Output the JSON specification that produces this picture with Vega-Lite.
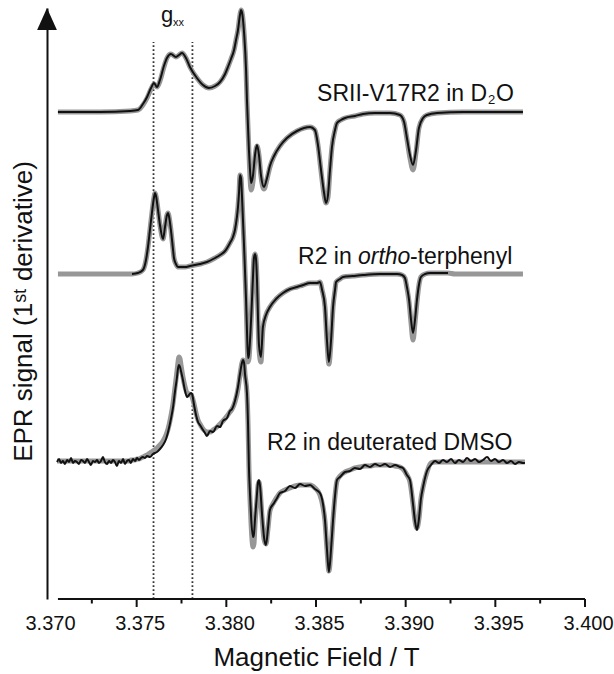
{
"$schema": "https://vega.github.io/schema/vega-lite/v6.json",
"width": 538, "height": 591,
"autosize": {"type": "none"},
"padding": {"left": 47, "top": 8, "right": 29, "bottom": 75},
"background": "white",
"config": {"view": {"stroke": null}, "font": "Liberation Sans"},
"datasets": {
"gl": [{"x":3.37594,"y0":0,"y1":557},{"x":3.37811,"y0":0,"y1":557}],
"axl": [{"x":3.37061,"x2":3.4,"y":0}],
"ticks": [
{"x":3.375,"y0":0,"y1":-8},{"x":3.380,"y0":0,"y1":-8},{"x":3.385,"y0":0,"y1":-8},{"x":3.390,"y0":0,"y1":-8},{"x":3.395,"y0":0,"y1":-8},{"x":3.400,"y0":0,"y1":-8},
{"x":3.3725,"y0":0,"y1":-4.5},{"x":3.3775,"y0":0,"y1":-4.5},{"x":3.3825,"y0":0,"y1":-4.5},{"x":3.3875,"y0":0,"y1":-4.5},{"x":3.3925,"y0":0,"y1":-4.5},{"x":3.3975,"y0":0,"y1":-4.5}],
"arrow": [{"x":3.370,"y":580}],
"ann": [
{"t":"SRII-V17R2 in D","x":3.38506,"y":498,"sz":23,"it":false},
{"t":"2","x":3.39459,"y":495,"sz":13,"it":false},
{"t":"O","x":3.39504,"y":498,"sz":23,"it":false},
{"t":"R2 in","x":3.38400,"y":335,"sz":23,"it":false},
{"t":"ortho","x":3.38734,"y":335,"sz":23,"it":true},
{"t":"-terphenyl","x":3.39024,"y":335,"sz":23,"it":false},
{"t":"R2 in deuterated DMSO","x":3.38227,"y":149,"sz":23,"it":false},
{"t":"g","x":3.37636,"y":577,"sz":22,"it":false},
{"t":"xx","x":3.37703,"y":573,"sz":11,"it":false}],
"spec": [
{"s":"A","x":3.37061,"e":487,"m":487},{"s":"A","x":3.37296,"e":487,"m":487},{"s":"A","x":3.37463,"e":488,"m":488},{"s":"A","x":3.37507,"e":489,"m":489},
{"s":"A","x":3.37535,"e":495,"m":494},{"s":"A","x":3.37558,"e":502,"m":501},{"s":"A","x":3.37580,"e":511,"m":510},{"s":"A","x":3.37597,"e":516,"m":515},
{"s":"A","x":3.37613,"e":512,"m":512},{"s":"A","x":3.37630,"e":519,"m":518},{"s":"A","x":3.37652,"e":533,"m":532},{"s":"A","x":3.37669,"e":541,"m":541},
{"s":"A","x":3.37691,"e":545,"m":545},{"s":"A","x":3.37719,"e":542,"m":542},{"s":"A","x":3.37736,"e":544,"m":544},{"s":"A","x":3.37753,"e":546,"m":546},
{"s":"A","x":3.37775,"e":541,"m":541},{"s":"A","x":3.37797,"e":532,"m":532},{"s":"A","x":3.37836,"e":521,"m":521},{"s":"A","x":3.37870,"e":514,"m":514},
{"s":"A","x":3.37903,"e":511,"m":511},{"s":"A","x":3.37937,"e":513,"m":513},{"s":"A","x":3.37965,"e":517,"m":517},{"s":"A","x":3.37993,"e":525,"m":525},
{"s":"A","x":3.38009,"e":532,"m":532},{"s":"A","x":3.38026,"e":540,"m":540},{"s":"A","x":3.38043,"e":549,"m":549},{"s":"A","x":3.38054,"e":559,"m":559},
{"s":"A","x":3.38065,"e":569,"m":569},{"s":"A","x":3.38076,"e":584,"m":584},{"s":"A","x":3.38082,"e":589,"m":589},{"s":"A","x":3.38087,"e":587,"m":587},
{"s":"A","x":3.38099,"e":566,"m":566},{"s":"A","x":3.38110,"e":529,"m":529},{"s":"A","x":3.38115,"e":499,"m":499},{"s":"A","x":3.38126,"e":449,"m":447},
{"s":"A","x":3.38132,"e":429,"m":422},{"s":"A","x":3.38138,"e":416,"m":409},{"s":"A","x":3.38149,"e":424,"m":418},{"s":"A","x":3.38160,"e":444,"m":442},
{"s":"A","x":3.38171,"e":454,"m":453},{"s":"A","x":3.38182,"e":444,"m":444},{"s":"A","x":3.38193,"e":424,"m":423},{"s":"A","x":3.38210,"e":412,"m":410},
{"s":"A","x":3.38227,"e":421,"m":420},{"s":"A","x":3.38243,"e":433,"m":432},{"s":"A","x":3.38266,"e":443,"m":443},{"s":"A","x":3.38299,"e":453,"m":453},
{"s":"A","x":3.38338,"e":461,"m":461},{"s":"A","x":3.38394,"e":468,"m":468},{"s":"A","x":3.38467,"e":472,"m":472},{"s":"A","x":3.38494,"e":469,"m":469},
{"s":"A","x":3.38511,"e":454,"m":454},{"s":"A","x":3.38528,"e":429,"m":428},{"s":"A","x":3.38545,"e":406,"m":404},{"s":"A","x":3.38556,"e":396,"m":396},
{"s":"A","x":3.38567,"e":404,"m":402},{"s":"A","x":3.38578,"e":429,"m":429},{"s":"A","x":3.38589,"e":452,"m":452},{"s":"A","x":3.38606,"e":469,"m":469},
{"s":"A","x":3.38617,"e":476,"m":476},{"s":"A","x":3.38639,"e":479,"m":479},{"s":"A","x":3.38662,"e":481,"m":481},{"s":"A","x":3.38717,"e":483,"m":483},
{"s":"A","x":3.38762,"e":485,"m":485},{"s":"A","x":3.38829,"e":486,"m":486},{"s":"A","x":3.38913,"e":486,"m":486},{"s":"A","x":3.38968,"e":484,"m":484},
{"s":"A","x":3.38991,"e":477,"m":477},{"s":"A","x":3.39007,"e":461,"m":460},{"s":"A","x":3.39024,"e":444,"m":441},{"s":"A","x":3.39041,"e":434,"m":429},
{"s":"A","x":3.39058,"e":449,"m":447},{"s":"A","x":3.39074,"e":471,"m":471},{"s":"A","x":3.39097,"e":481,"m":481},{"s":"A","x":3.39119,"e":484,"m":484},
{"s":"A","x":3.39175,"e":486,"m":486},{"s":"A","x":3.39320,"e":487,"m":487},{"s":"A","x":3.39470,"e":487,"m":487},{"s":"A","x":3.39654,"e":487,"m":487},

{"s":"B","x":3.37061,"e":null,"m":325},{"s":"B","x":3.37296,"e":null,"m":325},{"s":"B","x":3.37474,"e":325,"m":325},{"s":"B","x":3.37507,"e":326,"m":326},
{"s":"B","x":3.37535,"e":329,"m":329},{"s":"B","x":3.37552,"e":339,"m":339},{"s":"B","x":3.37563,"e":352,"m":352},{"s":"B","x":3.37574,"e":369,"m":369},
{"s":"B","x":3.37585,"e":386,"m":386},{"s":"B","x":3.37597,"e":402,"m":402},{"s":"B","x":3.37602,"e":406,"m":406},{"s":"B","x":3.37608,"e":403,"m":403},
{"s":"B","x":3.37619,"e":389,"m":389},{"s":"B","x":3.37630,"e":374,"m":374},{"s":"B","x":3.37647,"e":360,"m":360},{"s":"B","x":3.37658,"e":372,"m":372},
{"s":"B","x":3.37669,"e":384,"m":384},{"s":"B","x":3.37675,"e":386,"m":386},{"s":"B","x":3.37680,"e":383,"m":383},{"s":"B","x":3.37691,"e":369,"m":369},
{"s":"B","x":3.37703,"e":349,"m":349},{"s":"B","x":3.37708,"e":341,"m":341},{"s":"B","x":3.37719,"e":335,"m":335},{"s":"B","x":3.37730,"e":332,"m":332},
{"s":"B","x":3.37770,"e":332,"m":332},{"s":"B","x":3.37797,"e":333,"m":333},{"s":"B","x":3.37853,"e":335,"m":335},{"s":"B","x":3.37892,"e":337,"m":337},
{"s":"B","x":3.37937,"e":341,"m":341},{"s":"B","x":3.37965,"e":344,"m":344},{"s":"B","x":3.37993,"e":348,"m":348},{"s":"B","x":3.38020,"e":356,"m":356},
{"s":"B","x":3.38037,"e":362,"m":362},{"s":"B","x":3.38048,"e":369,"m":369},{"s":"B","x":3.38059,"e":382,"m":382},{"s":"B","x":3.38065,"e":392,"m":392},
{"s":"B","x":3.38071,"e":407,"m":407},{"s":"B","x":3.38076,"e":424,"m":424},{"s":"B","x":3.38082,"e":421,"m":421},{"s":"B","x":3.38087,"e":404,"m":404},
{"s":"B","x":3.38099,"e":352,"m":352},{"s":"B","x":3.38110,"e":299,"m":298},{"s":"B","x":3.38115,"e":269,"m":266},{"s":"B","x":3.38121,"e":241,"m":237},
{"s":"B","x":3.38126,"e":244,"m":240},{"s":"B","x":3.38138,"e":279,"m":277},{"s":"B","x":3.38149,"e":324,"m":324},{"s":"B","x":3.38154,"e":341,"m":341},
{"s":"B","x":3.38160,"e":345,"m":345},{"s":"B","x":3.38165,"e":341,"m":341},{"s":"B","x":3.38171,"e":319,"m":319},{"s":"B","x":3.38177,"e":279,"m":278},
{"s":"B","x":3.38182,"e":254,"m":250},{"s":"B","x":3.38193,"e":242,"m":237},{"s":"B","x":3.38204,"e":272,"m":270},{"s":"B","x":3.38221,"e":284,"m":284},
{"s":"B","x":3.38243,"e":292,"m":292},{"s":"B","x":3.38277,"e":300,"m":300},{"s":"B","x":3.38316,"e":306,"m":306},{"s":"B","x":3.38355,"e":310,"m":310},
{"s":"B","x":3.38394,"e":312,"m":312},{"s":"B","x":3.38428,"e":314,"m":314},{"s":"B","x":3.38467,"e":316,"m":316},{"s":"B","x":3.38506,"e":316,"m":316},
{"s":"B","x":3.38522,"e":317,"m":317},{"s":"B","x":3.38534,"e":309,"m":309},{"s":"B","x":3.38550,"e":292,"m":292},{"s":"B","x":3.38561,"e":259,"m":258},
{"s":"B","x":3.38572,"e":237,"m":235},{"s":"B","x":3.38584,"e":259,"m":258},{"s":"B","x":3.38595,"e":292,"m":292},{"s":"B","x":3.38606,"e":309,"m":309},
{"s":"B","x":3.38612,"e":317,"m":317},{"s":"B","x":3.38634,"e":320,"m":320},{"s":"B","x":3.38651,"e":322,"m":322},{"s":"B","x":3.38706,"e":323,"m":323},
{"s":"B","x":3.38762,"e":324,"m":324},{"s":"B","x":3.38857,"e":325,"m":325},{"s":"B","x":3.38952,"e":325,"m":325},{"s":"B","x":3.38980,"e":324,"m":324},
{"s":"B","x":3.38996,"e":321,"m":321},{"s":"B","x":3.39007,"e":312,"m":311},{"s":"B","x":3.39019,"e":299,"m":297},{"s":"B","x":3.39030,"e":279,"m":276},
{"s":"B","x":3.39041,"e":266,"m":259},{"s":"B","x":3.39052,"e":279,"m":276},{"s":"B","x":3.39063,"e":299,"m":297},{"s":"B","x":3.39074,"e":314,"m":314},
{"s":"B","x":3.39085,"e":322,"m":322},{"s":"B","x":3.39108,"e":325,"m":325},{"s":"B","x":3.39136,"e":326,"m":326},{"s":"B","x":3.39191,"e":326,"m":326},
{"s":"B","x":3.39236,"e":326,"m":326},{"s":"B","x":3.39275,"e":null,"m":325},{"s":"B","x":3.39470,"e":null,"m":325},{"s":"B","x":3.39654,"e":null,"m":325},

{"s":"C","x":3.37056,"e":137,"m":138},{"s":"C","x":3.37067,"e":140,"m":138},{"s":"C","x":3.37078,"e":136,"m":138},{"s":"C","x":3.37089,"e":138,"m":138},
{"s":"C","x":3.37100,"e":135,"m":138},{"s":"C","x":3.37112,"e":139,"m":138},{"s":"C","x":3.37123,"e":137,"m":138},{"s":"C","x":3.37134,"e":141,"m":138},
{"s":"C","x":3.37145,"e":136,"m":138},{"s":"C","x":3.37156,"e":138,"m":138},{"s":"C","x":3.37167,"e":137,"m":138},{"s":"C","x":3.37178,"e":135,"m":138},
{"s":"C","x":3.37190,"e":139,"m":138},{"s":"C","x":3.37201,"e":138,"m":138},{"s":"C","x":3.37212,"e":136,"m":138},{"s":"C","x":3.37223,"e":140,"m":138},
{"s":"C","x":3.37234,"e":137,"m":138},{"s":"C","x":3.37245,"e":134,"m":138},{"s":"C","x":3.37256,"e":138,"m":138},{"s":"C","x":3.37268,"e":137,"m":138},
{"s":"C","x":3.37279,"e":139,"m":138},{"s":"C","x":3.37290,"e":136,"m":138},{"s":"C","x":3.37301,"e":138,"m":138},{"s":"C","x":3.37312,"e":142,"m":138},
{"s":"C","x":3.37323,"e":137,"m":138},{"s":"C","x":3.37335,"e":135,"m":138},{"s":"C","x":3.37346,"e":138,"m":138},{"s":"C","x":3.37357,"e":136,"m":138},
{"s":"C","x":3.37368,"e":139,"m":138},{"s":"C","x":3.37379,"e":137,"m":138},{"s":"C","x":3.37390,"e":133,"m":138},{"s":"C","x":3.37401,"e":138,"m":138},
{"s":"C","x":3.37413,"e":136,"m":138},{"s":"C","x":3.37424,"e":140,"m":138},{"s":"C","x":3.37435,"e":135,"m":138},{"s":"C","x":3.37446,"e":138,"m":138},
{"s":"C","x":3.37457,"e":139,"m":138},{"s":"C","x":3.37468,"e":136,"m":139},{"s":"C","x":3.37479,"e":140,"m":139},{"s":"C","x":3.37491,"e":138,"m":139},
{"s":"C","x":3.37502,"e":141,"m":140},{"s":"C","x":3.37513,"e":139,"m":140},{"s":"C","x":3.37524,"e":141,"m":141},{"s":"C","x":3.37535,"e":142,"m":142},
{"s":"C","x":3.37546,"e":141,"m":143},{"s":"C","x":3.37558,"e":143,"m":144},{"s":"C","x":3.37574,"e":142,"m":146},{"s":"C","x":3.37591,"e":145,"m":148},
{"s":"C","x":3.37613,"e":147,"m":151},{"s":"C","x":3.37630,"e":150,"m":154},{"s":"C","x":3.37647,"e":154,"m":158},{"s":"C","x":3.37664,"e":160,"m":164},
{"s":"C","x":3.37675,"e":167,"m":170},{"s":"C","x":3.37691,"e":180,"m":183},{"s":"C","x":3.37703,"e":192,"m":196},{"s":"C","x":3.37714,"e":208,"m":212},
{"s":"C","x":3.37725,"e":222,"m":228},{"s":"C","x":3.37730,"e":230,"m":236},{"s":"C","x":3.37736,"e":234,"m":242},{"s":"C","x":3.37742,"e":232,"m":240},
{"s":"C","x":3.37747,"e":228,"m":234},{"s":"C","x":3.37758,"e":219,"m":222},{"s":"C","x":3.37770,"e":208,"m":212},{"s":"C","x":3.37781,"e":202,"m":206},
{"s":"C","x":3.37792,"e":204,"m":205},{"s":"C","x":3.37803,"e":206,"m":204},{"s":"C","x":3.37809,"e":205,"m":202},{"s":"C","x":3.37820,"e":194,"m":195},
{"s":"C","x":3.37831,"e":184,"m":186},{"s":"C","x":3.37842,"e":177,"m":179},{"s":"C","x":3.37853,"e":174,"m":175},{"s":"C","x":3.37870,"e":169,"m":170},
{"s":"C","x":3.37881,"e":166,"m":168},{"s":"C","x":3.37892,"e":163,"m":167},{"s":"C","x":3.37909,"e":168,"m":167},{"s":"C","x":3.37926,"e":167,"m":169},
{"s":"C","x":3.37948,"e":173,"m":172},{"s":"C","x":3.37965,"e":172,"m":175},{"s":"C","x":3.37981,"e":178,"m":178},{"s":"C","x":3.38004,"e":181,"m":183},
{"s":"C","x":3.38020,"e":188,"m":187},{"s":"C","x":3.38032,"e":190,"m":190},{"s":"C","x":3.38048,"e":198,"m":197},{"s":"C","x":3.38065,"e":212,"m":210},
{"s":"C","x":3.38076,"e":225,"m":224},{"s":"C","x":3.38087,"e":236,"m":236},{"s":"C","x":3.38093,"e":239,"m":239},{"s":"C","x":3.38099,"e":236,"m":236},
{"s":"C","x":3.38104,"e":225,"m":225},{"s":"C","x":3.38115,"e":206,"m":206},{"s":"C","x":3.38121,"e":175,"m":175},{"s":"C","x":3.38126,"e":132,"m":132},
{"s":"C","x":3.38132,"e":105,"m":100},{"s":"C","x":3.38138,"e":82,"m":75},{"s":"C","x":3.38149,"e":62,"m":52},{"s":"C","x":3.38154,"e":65,"m":55},
{"s":"C","x":3.38160,"e":80,"m":75},{"s":"C","x":3.38171,"e":105,"m":100},{"s":"C","x":3.38177,"e":117,"m":114},{"s":"C","x":3.38182,"e":119,"m":117},
{"s":"C","x":3.38188,"e":113,"m":110},{"s":"C","x":3.38199,"e":85,"m":82},{"s":"C","x":3.38210,"e":62,"m":60},{"s":"C","x":3.38221,"e":54,"m":55},
{"s":"C","x":3.38232,"e":70,"m":70},{"s":"C","x":3.38243,"e":89,"m":88},{"s":"C","x":3.38266,"e":96,"m":97},{"s":"C","x":3.38283,"e":101,"m":102},
{"s":"C","x":3.38299,"e":106,"m":106},{"s":"C","x":3.38327,"e":108,"m":109},{"s":"C","x":3.38355,"e":113,"m":111},{"s":"C","x":3.38383,"e":111,"m":113},
{"s":"C","x":3.38411,"e":115,"m":114},{"s":"C","x":3.38439,"e":113,"m":114},{"s":"C","x":3.38467,"e":114,"m":114},{"s":"C","x":3.38494,"e":110,"m":111},
{"s":"C","x":3.38522,"e":106,"m":104},{"s":"C","x":3.38539,"e":95,"m":92},{"s":"C","x":3.38550,"e":79,"m":78},{"s":"C","x":3.38561,"e":50,"m":50},
{"s":"C","x":3.38572,"e":27,"m":28},{"s":"C","x":3.38584,"e":50,"m":50},{"s":"C","x":3.38595,"e":79,"m":79},{"s":"C","x":3.38606,"e":103,"m":103},
{"s":"C","x":3.38617,"e":119,"m":118},{"s":"C","x":3.38634,"e":122,"m":123},{"s":"C","x":3.38662,"e":127,"m":127},{"s":"C","x":3.38690,"e":128,"m":129},
{"s":"C","x":3.38717,"e":131,"m":131},{"s":"C","x":3.38745,"e":130,"m":132},{"s":"C","x":3.38773,"e":134,"m":133},{"s":"C","x":3.38801,"e":132,"m":133},
{"s":"C","x":3.38829,"e":135,"m":134},{"s":"C","x":3.38857,"e":133,"m":134},{"s":"C","x":3.38885,"e":135,"m":134},{"s":"C","x":3.38913,"e":132,"m":134},
{"s":"C","x":3.38941,"e":134,"m":133},{"s":"C","x":3.38968,"e":132,"m":132},{"s":"C","x":3.38985,"e":131,"m":130},{"s":"C","x":3.39007,"e":124,"m":124},
{"s":"C","x":3.39024,"e":119,"m":117},{"s":"C","x":3.39041,"e":95,"m":95},{"s":"C","x":3.39052,"e":78,"m":78},{"s":"C","x":3.39063,"e":69,"m":71},
{"s":"C","x":3.39074,"e":80,"m":80},{"s":"C","x":3.39085,"e":100,"m":100},{"s":"C","x":3.39097,"e":112,"m":112},{"s":"C","x":3.39119,"e":128,"m":127},
{"s":"C","x":3.39141,"e":134,"m":136},{"s":"C","x":3.39164,"e":138,"m":137},{"s":"C","x":3.39186,"e":136,"m":137},{"s":"C","x":3.39208,"e":139,"m":137},
{"s":"C","x":3.39230,"e":137,"m":137},{"s":"C","x":3.39253,"e":140,"m":137},{"s":"C","x":3.39275,"e":136,"m":137},{"s":"C","x":3.39297,"e":139,"m":137},
{"s":"C","x":3.39320,"e":137,"m":137},{"s":"C","x":3.39342,"e":141,"m":137},{"s":"C","x":3.39364,"e":138,"m":137},{"s":"C","x":3.39387,"e":140,"m":137},
{"s":"C","x":3.39409,"e":137,"m":137},{"s":"C","x":3.39431,"e":139,"m":137},{"s":"C","x":3.39454,"e":142,"m":137},{"s":"C","x":3.39476,"e":138,"m":137},
{"s":"C","x":3.39498,"e":140,"m":137},{"s":"C","x":3.39520,"e":137,"m":137},{"s":"C","x":3.39543,"e":139,"m":137},{"s":"C","x":3.39565,"e":136,"m":137},
{"s":"C","x":3.39587,"e":138,"m":137},{"s":"C","x":3.39610,"e":135,"m":137},{"s":"C","x":3.39632,"e":137,"m":137},{"s":"C","x":3.39654,"e":136,"m":137},
{"s":"C","x":3.39665,"e":136,"m":137}
]
},
"layer": [
{"data": {"name": "gl"},
 "mark": {"type": "rule", "strokeDash": [1.8, 2.2], "strokeWidth": 1.8, "color": "#333"},
 "encoding": {
  "x": {"field": "x", "type": "quantitative", "scale": {"domain": [3.37, 3.4], "nice": false, "zero": false},
        "axis": {"values": [3.370, 3.375, 3.380, 3.385, 3.390, 3.395, 3.400], "format": ".3f", "domain": false, "ticks": false, "tickSize": 0, "grid": false,
                 "labelFont": "Liberation Sans", "labelFontSize": 20, "labelColor": "#111", "labelPadding": 14, "labelOffset": 3, "labelFlush": false, "labelOverlap": false,
                 "title": "Magnetic Field / T", "titleFont": "Liberation Sans", "titleFontSize": 26, "titleFontWeight": "normal", "titleColor": "#111", "titleY": 66, "titleBaseline": "alphabetic"}},
  "y": {"field": "y0", "type": "quantitative", "scale": {"domain": [0, 591], "nice": false, "zero": false},
        "axis": {"domain": true, "domainColor": "#111", "domainWidth": 2, "ticks": false, "tickSize": 0, "labels": false, "grid": false,
                 "title": "EPR signal (1ˢᵗ derivative)", "titleFont": "Liberation Sans", "titleFontSize": 26, "titleFontWeight": "normal", "titleColor": "#111",
                 "titleX": -16, "titleY": 303, "titleAngle": -90, "titleBaseline": "alphabetic", "titleAlign": "center"}},
  "y2": {"field": "y1"}}},
{"data": {"name": "spec"},
 "mark": {"type": "line", "color": "#979797", "strokeWidth": 5, "interpolate": "monotone"},
 "encoding": {
  "x": {"field": "x", "type": "quantitative", "scale": {"domain": [3.37, 3.4], "nice": false, "zero": false}},
  "y": {"field": "m", "type": "quantitative", "scale": {"domain": [0, 591], "nice": false, "zero": false}},
  "detail": {"field": "s", "type": "nominal"}}},
{"data": {"name": "spec"},
 "mark": {"type": "line", "color": "#111111", "strokeWidth": 2, "interpolate": "monotone"},
 "encoding": {
  "x": {"field": "x", "type": "quantitative", "scale": {"domain": [3.37, 3.4], "nice": false, "zero": false}},
  "y": {"field": "e", "type": "quantitative", "scale": {"domain": [0, 591], "nice": false, "zero": false}},
  "detail": {"field": "s", "type": "nominal"}}},
{"data": {"name": "axl"},
 "mark": {"type": "rule", "strokeWidth": 2, "color": "#111"},
 "encoding": {
  "x": {"field": "x", "type": "quantitative", "scale": {"domain": [3.37, 3.4], "nice": false, "zero": false}},
  "x2": {"field": "x2"},
  "y": {"field": "y", "type": "quantitative", "scale": {"domain": [0, 591], "nice": false, "zero": false}}}},
{"data": {"name": "ticks"},
 "mark": {"type": "rule", "strokeWidth": 2, "color": "#111"},
 "encoding": {
  "x": {"field": "x", "type": "quantitative", "scale": {"domain": [3.37, 3.4], "nice": false, "zero": false}},
  "y": {"field": "y0", "type": "quantitative", "scale": {"domain": [0, 591], "nice": false, "zero": false}},
  "y2": {"field": "y1"}}},
{"data": {"name": "arrow"},
 "mark": {"type": "point", "shape": "M0,-1L-0.9,1L0.9,1Z", "size": 484, "filled": true, "color": "#111", "opacity": 1},
 "encoding": {
  "x": {"field": "x", "type": "quantitative", "scale": {"domain": [3.37, 3.4], "nice": false, "zero": false}},
  "y": {"field": "y", "type": "quantitative", "scale": {"domain": [0, 591], "nice": false, "zero": false}}}},
{"data": {"name": "ann"},
 "transform": [{"filter": "!datum.it"}],
 "mark": {"type": "text", "align": "left", "baseline": "alphabetic", "font": "Liberation Sans", "color": "#111"},
 "encoding": {
  "x": {"field": "x", "type": "quantitative", "scale": {"domain": [3.37, 3.4], "nice": false, "zero": false}},
  "y": {"field": "y", "type": "quantitative", "scale": {"domain": [0, 591], "nice": false, "zero": false}},
  "text": {"field": "t"},
  "size": {"field": "sz", "type": "quantitative", "scale": null, "legend": null}}},
{"data": {"name": "ann"},
 "transform": [{"filter": "datum.it"}],
 "mark": {"type": "text", "align": "left", "baseline": "alphabetic", "font": "Liberation Sans", "fontStyle": "italic", "color": "#111"},
 "encoding": {
  "x": {"field": "x", "type": "quantitative", "scale": {"domain": [3.37, 3.4], "nice": false, "zero": false}},
  "y": {"field": "y", "type": "quantitative", "scale": {"domain": [0, 591], "nice": false, "zero": false}},
  "text": {"field": "t"},
  "size": {"field": "sz", "type": "quantitative", "scale": null, "legend": null}}}
]
}
